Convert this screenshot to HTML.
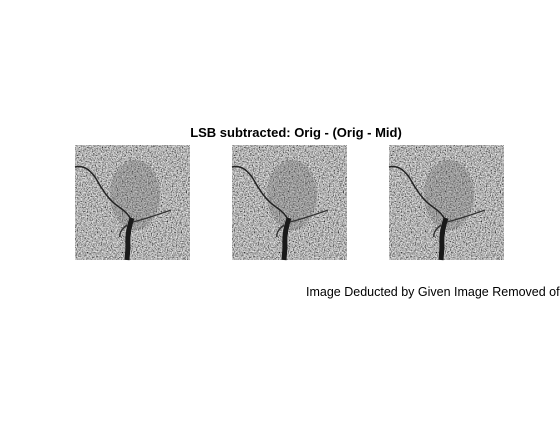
<!DOCTYPE html>
<html><head><meta charset="utf-8"><style>
body{margin:0;background:#fff;width:560px;height:420px;overflow:hidden;font-family:"Liberation Sans",sans-serif}
</style></head><body>
<svg width="560" height="420">
<defs>
<filter id="n" x="0" y="0" width="100%" height="100%">
<feTurbulence type="fractalNoise" baseFrequency="0.8" numOctaves="3" seed="3"/>
<feColorMatrix type="matrix" values="1.5 0 0 0 -0.3  1.5 0 0 0 -0.3  1.5 0 0 0 -0.3  0 0 0 0 1"/>
</filter>
<g id="img">
<rect width="115" height="115" fill="#999" filter="url(#n)"/>
<ellipse cx="60" cy="50" rx="25" ry="35" fill="#666" opacity="0.3"/>
<path d="M0,22 C8,20 14,24 20,32 C26,42 32,54 44,62 C50,66 54,70 56,75" stroke="#222" stroke-width="1.5" fill="none"/>
<path d="M57,73 C54,82 52,92 53,102 L52,115" stroke="#1a1a1a" stroke-width="5" fill="none"/>
<path d="M58,77 C70,74 82,70 96,65" stroke="#333" stroke-width="1.2" fill="none"/>
<path d="M52,80 C47,84 44,88 45,92" stroke="#333" stroke-width="1.5" fill="none"/>
</g>
</defs>
<text x="296" y="137" text-anchor="middle" font-size="13" font-weight="bold">LSB subtracted: Orig - (Orig - Mid)</text>
<use href="#img" x="75" y="145"/>
<use href="#img" x="232" y="145"/>
<use href="#img" x="389" y="145"/>
<text x="306" y="296" font-size="12.5">Image Deducted by Given Image Removed of</text>
</svg>
</body></html>
